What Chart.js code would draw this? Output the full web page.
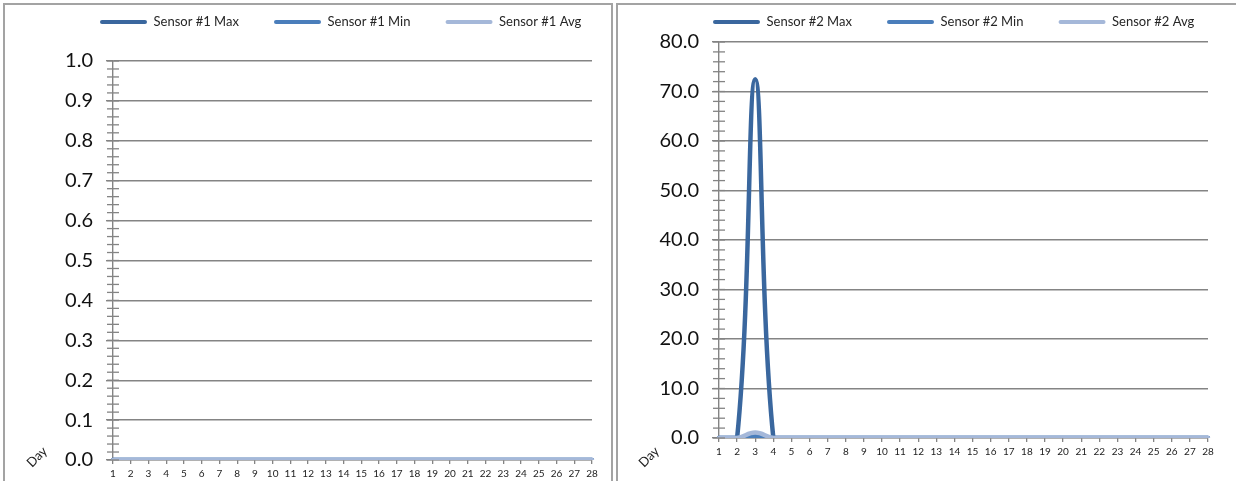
<!DOCTYPE html>
<html>
<head>
<meta charset="utf-8">
<script src="https://cdn.jsdelivr.net/npm/chart.js@4.4.1/dist/chart.umd.min.js"></script>
<style>
  html, body { margin: 0; padding: 0; background: #fff; }
  body { width: 1236px; height: 481px; position: relative; overflow: hidden; }
  .panel { position: absolute; top: 3px; border: 2px solid #a3a3a3; background: #fff; overflow: hidden; }
  #p1 { left: 3px; width: 606px; height: 490px; }
  #p2 { left: 616px; width: 640px; height: 490px; }
  canvas { position: absolute; left: 0; top: 0; }
</style>
</head>
<body>
<div class="panel" id="p1"><canvas id="chart1" width="606" height="476"></canvas></div>
<div class="panel" id="p2"><canvas id="chart2" width="618" height="476"></canvas></div>
<script>
// days on the x axis
const days = ['1', '2', '3', '4', '5', '6', '7', '8', '9', '10', '11', '12', '13', '14',
  '15', '16', '17', '18', '19', '20', '21', '22', '23', '24', '25', '26', '27', '28'];

// sensor 1 : nothing recorded
const sensor1Names = ['Sensor #1 Max', 'Sensor #1 Min', 'Sensor #1 Avg'];
const sensor1Max = [0, 0, 0, 0, 0, 0, 0, 0, 0, 0, 0, 0, 0, 0, 0, 0, 0, 0, 0, 0, 0, 0, 0, 0, 0, 0, 0, 0];
const sensor1Min = [0, 0, 0, 0, 0, 0, 0, 0, 0, 0, 0, 0, 0, 0, 0, 0, 0, 0, 0, 0, 0, 0, 0, 0, 0, 0, 0, 0];
const sensor1Avg = [0, 0, 0, 0, 0, 0, 0, 0, 0, 0, 0, 0, 0, 0, 0, 0, 0, 0, 0, 0, 0, 0, 0, 0, 0, 0, 0, 0];
const sensor1Ticks = [0, 0.1, 0.2, 0.3, 0.4, 0.5, 0.6, 0.7, 0.8, 0.9, 1.0];

// sensor 2 : one spike on day 3
const sensor2Names = ['Sensor #2 Max', 'Sensor #2 Min', 'Sensor #2 Avg'];
const sensor2Max = [0, 0, 72.5, 0, 0, 0, 0, 0, 0, 0, 0, 0, 0, 0, 0, 0, 0, 0, 0, 0, 0, 0, 0, 0, 0, 0, 0, 0];
const sensor2Min = [0, 0, 0.4, 0, 0, 0, 0, 0, 0, 0, 0, 0, 0, 0, 0, 0, 0, 0, 0, 0, 0, 0, 0, 0, 0, 0, 0, 0];
const sensor2Avg = [0, 0, 1.1, 0, 0, 0, 0, 0, 0, 0, 0, 0, 0, 0, 0, 0, 0, 0, 0, 0, 0, 0, 0, 0, 0, 0, 0, 0];
const sensor2Ticks = [0, 10, 20, 30, 40, 50, 60, 70, 80];

const GRID = '#848484';
const COLORS = ['#3a679e', '#4a7ebb', '#a5b8d9'];
const FONT = 'Lato, "Open Sans", sans-serif';
const LEGEND_SIZE = 13;
const LEGEND_BOX = 47;
const LEGEND_STEP = 174; // from one legend line to the next

// small ticks between the labelled ones on the value axis
const minorTicks = {
  id: 'minorTicks',
  afterDraw(chart, args, opts) {
    const y = chart.scales.y;
    const x = chart.chartArea.left;
    const c = chart.ctx;
    const n = Math.round((y.max - y.min) / opts.step);
    c.save();
    c.strokeStyle = GRID;
    c.lineWidth = 1.3;
    for (let i = 0; i <= n; i++) {
      const py = y.getPixelForValue(y.min + i * opts.step);
      c.beginPath();
      c.moveTo(x - 6, py);
      c.lineTo(x + 6, py);
      c.stroke();
    }
    c.restore();
  }
};

// "Day" written at 45 degrees in the lower left corner
const dayLabel = {
  id: 'dayLabel',
  afterDraw(chart, args, opts) {
    const c = chart.ctx;
    c.save();
    c.translate(opts.x, opts.y);
    c.rotate(-Math.PI / 4);
    c.font = '13px ' + FONT;
    c.fillStyle = '#222';
    c.textAlign = 'center';
    c.textBaseline = 'middle';
    c.fillText('Day', 0, 0);
    c.restore();
  }
};

function makeChart(id, names, series, yTicks, minorStep, box) {
  const canvas = document.getElementById(id);
  const m = canvas.getContext('2d');
  m.font = LEGEND_SIZE + 'px ' + FONT;
  const itemW = names.map(n => LEGEND_BOX + LEGEND_SIZE / 2 + m.measureText(n).width);
  const gap = LEGEND_STEP - itemW[0];
  const rowW = itemW.reduce((s, w) => s + w + gap, 0);
  // centred legend: shift its box so the first line starts at legendX
  const padL = 20;
  const legendRight = 2 * box.legendX - padL - gap + rowW;
  const padR = box.w - legendRight;
  const padTop = box.legendY - LEGEND_SIZE / 2 - gap;
  const legendBottom = padTop + LEGEND_SIZE + gap + 10;

  return new Chart(canvas, {
    type: 'line',
    data: {
      labels: days,
      datasets: names.map((name, i) => ({
        label: name,
        data: series[i],
        borderColor: COLORS[i],
        backgroundColor: COLORS[i],
        borderWidth: 4.5,
        pointRadius: 0,
        tension: 0.4,
        fill: false,
        order: 2 - i,
        borderCapStyle: 'round',
        borderJoinStyle: 'round',
        xAxisID: 'x',
        yAxisID: 'y'
      }))
    },
    options: {
      responsive: false,
      animation: false,
      layout: { padding: { left: padL, right: padR, top: padTop, bottom: 0 } },
      plugins: {
        tooltip: { enabled: false },
        legend: {
          align: 'center',
          labels: {
            font: { family: FONT, size: LEGEND_SIZE },
            color: '#262626',
            boxWidth: LEGEND_BOX,
            boxHeight: 4,
            padding: gap,
            useBorderRadius: true,
            borderRadius: 2,
            sort: (a, b) => a.datasetIndex - b.datasetIndex,
            generateLabels: c => Chart.defaults.plugins.legend.labels.generateLabels(c)
              .map(l => ({ ...l, fillStyle: l.strokeStyle, lineWidth: 0 }))
          }
        },
        minorTicks: { step: minorStep },
        dayLabel: { x: box.dayX, y: box.dayY }
      },
      scales: {
        x: {
          type: 'category',
          offset: false,
          grid: { drawOnChartArea: false, color: GRID, lineWidth: 1.3, tickLength: 4 },
          border: { color: GRID, width: 1.3 },
          ticks: { font: { family: FONT, size: 10 }, color: '#222', padding: 4, maxRotation: 0, autoSkip: false },
          afterFit: s => { s.height = box.h - box.bottom; }
        },
        y: {
          min: yTicks[0],
          max: yTicks[yTicks.length - 1],
          afterBuildTicks: s => { s.ticks = yTicks.map(v => ({ value: v })); },
          grid: { color: GRID, lineWidth: 1.4, tickLength: 7 },
          border: { color: GRID, width: 1.4 },
          ticks: { font: { family: FONT, size: 20 }, color: '#111', padding: 13, callback: v => v.toFixed(1) },
          afterFit: s => { s.width = box.left - padL; s.paddingTop = 0; s.paddingBottom = 0; }
        },
        gapTop: {
          type: 'linear', position: 'top', display: true,
          grid: { display: false }, border: { display: false }, ticks: { display: false },
          afterFit: s => { s.height = box.top - legendBottom; }
        },
        gapRight: {
          type: 'linear', position: 'right', display: true,
          grid: { display: false }, border: { display: false }, ticks: { display: false },
          afterFit: s => { s.width = legendRight - box.right; }
        }
      }
    },
    plugins: [minorTicks, dayLabel]
  });
}

makeChart('chart1', sensor1Names, [sensor1Max, sensor1Min, sensor1Avg], sensor1Ticks, 0.02,
  { w: 606, h: 476, left: 108, right: 587, top: 56, bottom: 455, legendX: 95, legendY: 17, dayX: 32, dayY: 452 });

makeChart('chart2', sensor2Names, [sensor2Max, sensor2Min, sensor2Avg], sensor2Ticks, 2,
  { w: 618, h: 476, left: 101, right: 590, top: 37, bottom: 433, legendX: 95, legendY: 17, dayX: 31, dayY: 452 });
</script>
</body>
</html>
